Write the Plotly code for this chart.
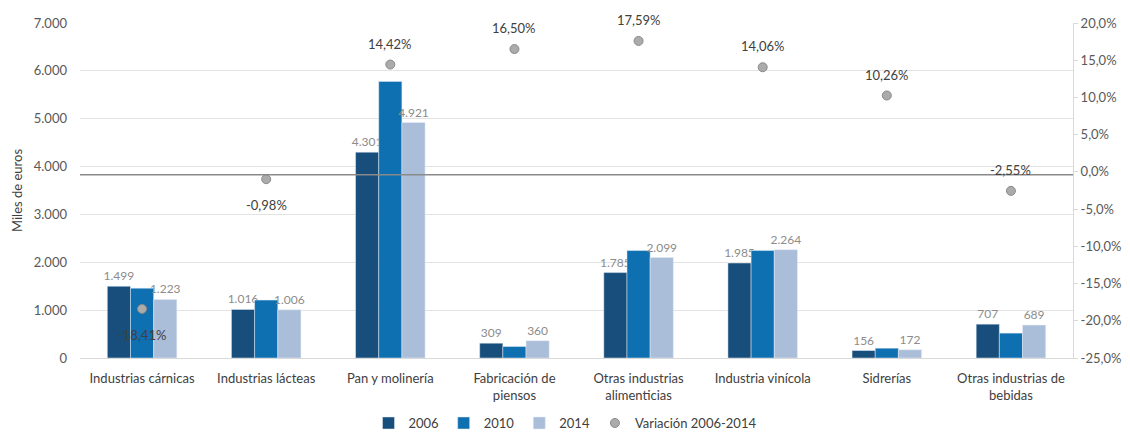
import plotly.graph_objects as go

categories = ["Industrias cárnicas", "Industrias lácteas", "Pan y molinería",
              "Fabricación de<br>piensos", "Otras industrias<br>alimenticias",
              "Industria vinícola", "Sidrerías", "Otras industrias de<br>bebidas"]
v2006 = [1499, 1016, 4301, 309, 1785, 1985, 156, 707]
v2010 = [1460, 1210, 5780, 240, 2245, 2245, 205, 520]
v2014 = [1223, 1006, 4921, 360, 2099, 2264, 172, 689]
variacion = [-18.41, -0.98, 14.42, 16.50, 17.59, 14.06, 10.26, -2.55]
var_below = [True, True, False, False, False, False, False, False]

left_ticks = [0, 1000, 2000, 3000, 4000, 5000, 6000, 7000]
left_text = ["0", "1.000", "2.000", "3.000", "4.000", "5.000", "6.000", "7.000"]
right_ticks = [-25, -20, -15, -10, -5, 0, 5, 10, 15, 20]
right_text = ["-25,0%", "-20,0%", "-15,0%", "-10,0%", "-5,0%", "0,0%",
              "5,0%", "10,0%", "15,0%", "20,0%"]

def fmt_es(v):
    return f"{v:,}".replace(",", ".")

def fmt_pct(v):
    return f"{v:.2f}%".replace(".", ",")

FONT = "Lato, 'Open Sans', sans-serif"
lbl_font = dict(family=FONT, size=12, color="#8c8c8c")

fig = go.Figure()
fig.add_trace(go.Bar(name="2006", x=categories, y=v2006, marker_color="#174e7b",
                     text=[fmt_es(v) for v in v2006], textposition="outside",
                     textfont=lbl_font, cliponaxis=False, constraintext="none"))
fig.add_trace(go.Bar(name="2010", x=categories, y=v2010, marker_color="#0e70b0"))
fig.add_trace(go.Bar(name="2014", x=categories, y=v2014, marker_color="#aabdd9",
                     text=[fmt_es(v) for v in v2014], textposition="outside",
                     textfont=lbl_font, cliponaxis=False, constraintext="none"))
fig.add_trace(go.Scatter(name="Variación 2006-2014", x=categories, y=variacion,
                         yaxis="y2", mode="markers",
                         marker=dict(size=9, color="#ababab",
                                     line=dict(color="#8a8a8a", width=1)),
                         cliponaxis=False))

for cat, val, below in zip(categories, variacion, var_below):
    fig.add_annotation(x=cat, y=val, xref="x", yref="y2", text=fmt_pct(val),
                       showarrow=False, yshift=-26 if below else 21,
                       font=dict(family=FONT, size=13, color="#404040"))

fig.add_shape(type="line", xref="paper", yref="y2", x0=0, x1=1, y0=-0.4, y1=-0.4,
              line=dict(color="#8a8a8a", width=1.5), layer="above")

fig.update_layout(
    width=1130, height=433,
    margin=dict(l=80, r=57, t=23, b=75, autoexpand=False),
    paper_bgcolor="white", plot_bgcolor="white",
    font=dict(family=FONT, size=13, color="#404040"),
    barmode="group", bargap=0.44, bargroupgap=0,
    showlegend=True,
    legend=dict(orientation="h", xref="container", x=0.5, xanchor="center",
                yref="container", y=0.023, yanchor="middle",
                font=dict(family=FONT, size=13, color="#404040"),
                itemwidth=30, traceorder="normal"),
    xaxis=dict(showgrid=False, showline=True, linecolor="#d9d9d9", linewidth=1,
               ticks="", ticklabelstandoff=8, automargin=False,
               tickfont=dict(family=FONT, size=13, color="#404040")),
    yaxis=dict(range=[0, 7000], tickvals=left_ticks, ticktext=left_text,
               showgrid=True, gridcolor="#e3e3e3", gridwidth=1, zeroline=False,
               showline=False, ticks="", ticklabelstandoff=12, automargin=False,
               tickfont=dict(family=FONT, size=13, color="#595959"),
               title=dict(text="Miles de euros", standoff=8,
                          font=dict(family=FONT, size=13, color="#404040"))),
    yaxis2=dict(range=[-25, 20], overlaying="y", side="right",
                tickvals=right_ticks, ticktext=right_text, showgrid=False,
                zeroline=False, showline=True, linecolor="#d9d9d9",
                ticks="outside", ticklen=4, tickcolor="#d9d9d9", automargin=False,
                tickfont=dict(family=FONT, size=13, color="#595959")),
    hovermode=False,
)

fig.write_html("out.html")
